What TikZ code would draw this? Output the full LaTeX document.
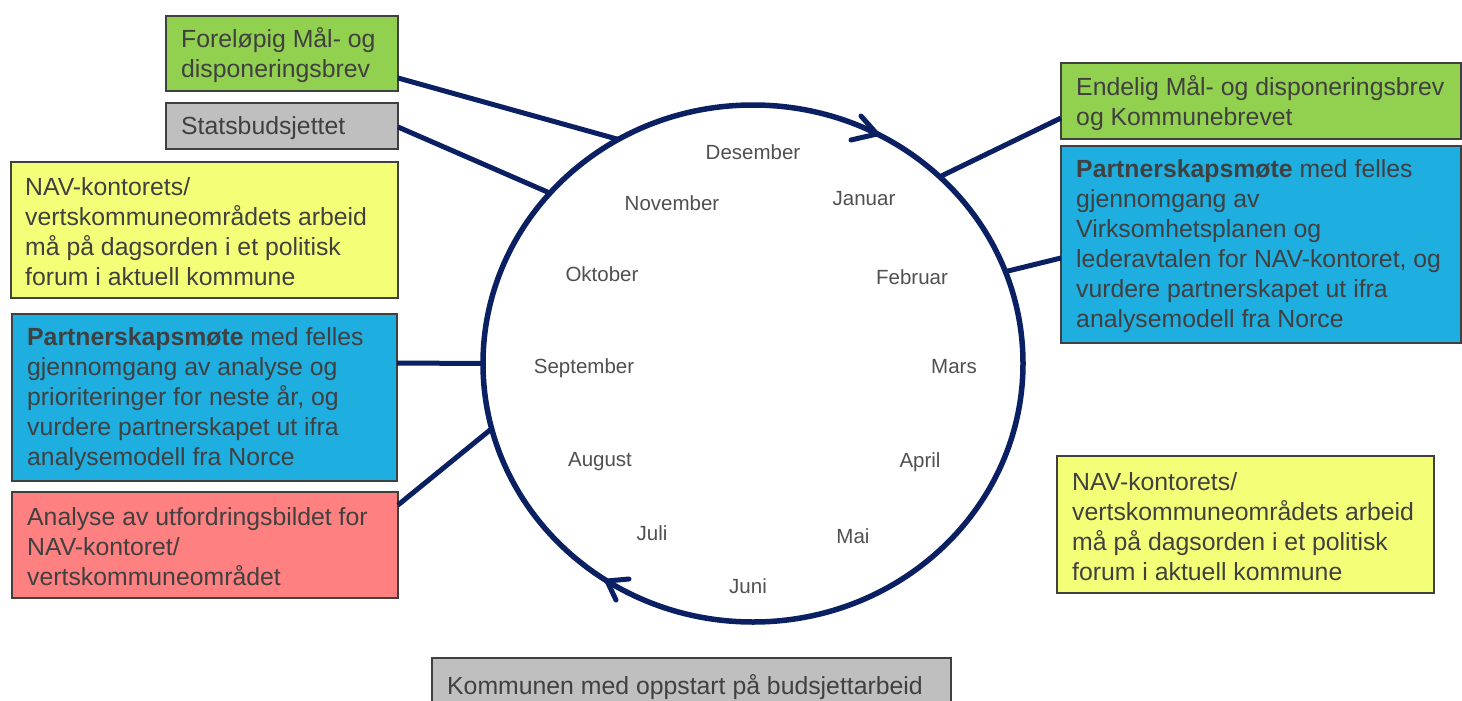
\documentclass[tikz,border=0pt]{standalone}
\usepackage{fontspec}
\setmainfont{Liberation Sans}
\usetikzlibrary{shapes.geometric}
\definecolor{navy}{RGB}{10,32,98}
\definecolor{boxline}{RGB}{64,64,64}
\definecolor{txtgray}{RGB}{64,64,64}
\definecolor{mongray}{RGB}{80,80,80}
\definecolor{lgreen}{RGB}{146,208,80}
\definecolor{lgray}{RGB}{191,191,191}
\definecolor{lyellow}{RGB}{244,255,120}
\definecolor{lblue}{RGB}{30,174,224}
\definecolor{lred}{RGB}{255,128,128}
\begin{document}
\begin{tikzpicture}[x=1pt,y=-1pt,
  box/.style={draw=boxline, line width=1.6pt, inner sep=0pt, outer sep=0pt, anchor=north west},
  txt/.style={align=left, anchor=west, inner sep=0pt, text=txtgray, font=\fontsize{24.8}{30}\selectfont},
  month/.style={text=mongray, font=\fontsize{20.5}{24}\selectfont, inner sep=0pt},
  conn/.style={draw=navy, line width=5pt},
  chev/.style={draw=navy, line width=5pt, line cap=round, line join=round}]
\useasboundingbox (0,0) rectangle (1462,701);
\fill[white] (0,0) rectangle (1462,701);

% boxes
\node[box, fill=lgreen, minimum width=232pt, minimum height=75pt] (fore) at (166,16) {};
\node[txt] (foreT) at ([xshift=15pt,yshift=-2pt]fore.west) {Foreløpig Mål- og\\disponeringsbrev};

\node[box, fill=lgray, minimum width=232pt, minimum height=46pt] (stats) at (166,103) {};
\node[txt] (statsT) at ([xshift=15pt,yshift=-2pt]stats.west) {Statsbudsjettet};

\node[box, fill=lyellow, minimum width=387pt, minimum height=136pt] (yelL) at (11,162) {};
\node[txt] (yelLT) at ([xshift=14pt,yshift=-2pt]yelL.west) {NAV-kontorets/\\vertskommuneområdets arbeid\\må på dagsorden i et politisk\\forum i aktuell kommune};

\node[box, fill=lblue, minimum width=385pt, minimum height=167pt] (bluL) at (12,314) {};
\node[txt] (bluLT) at ([xshift=15pt,yshift=-2pt]bluL.west) {\textbf{Partnerskapsmøte} med felles\\gjennomgang av analyse og\\prioriteringer for neste år, og\\vurdere partnerskapet ut ifra\\analysemodell fra Norce};

\node[box, fill=lred, minimum width=386pt, minimum height=106pt] (redL) at (12,492) {};
\node[txt] (redLT) at ([xshift=15pt,yshift=-2pt]redL.west) {Analyse av utfordringsbildet for\\NAV-kontoret/\\vertskommuneområdet};

\node[box, fill=lgreen, minimum width=400pt, minimum height=76pt] (endl) at (1061,63) {};
\node[txt] (endlT) at ([xshift=15pt,yshift=-2pt]endl.west) {Endelig Mål- og disponeringsbrev\\og Kommunebrevet};

\node[box, fill=lblue, minimum width=400pt, minimum height=197pt] (bluR) at (1061,146) {};
\node[txt] (bluRT) at ([xshift=15pt,yshift=-2pt]bluR.west) {\textbf{Partnerskapsmøte} med felles\\gjennomgang av\\Virksomhetsplanen og\\lederavtalen for NAV-kontoret, og\\vurdere partnerskapet ut ifra\\analysemodell fra Norce};

\node[box, fill=lyellow, minimum width=377pt, minimum height=137pt] (yelR) at (1057,456) {};
\node[txt] (yelRT) at ([xshift=15pt,yshift=-2pt]yelR.west) {NAV-kontorets/\\vertskommuneområdets arbeid\\må på dagsorden i et politisk\\forum i aktuell kommune};

\node[box, fill=lgray, minimum width=519pt, minimum height=54pt] (komm) at (432,658) {};
\node[txt] (kommT) at ([xshift=15pt,yshift=-2pt]komm.west) {Kommunen med oppstart på budsjettarbeid};

% cycle
\node[ellipse, draw=navy, line width=5.5pt, minimum width=540pt, minimum height=517pt, inner sep=0pt, outer sep=0pt] (cyc) at (753,363.5) {};

% month labels
\node[month] (m12) at (753,152) {Desember};
\node[month] (m1) at (864,199) {Januar};
\node[month] (m11) at (672,203) {November};
\node[month] (m2) at (912,277) {Februar};
\node[month] (m10) at (602,274) {Oktober};
\node[month] (m9) at (584,368) {September};
\node[month] (m3) at (954,367) {Mars};
\node[month] (m8) at (600,462) {August};
\node[month] (m4) at (920,462) {April};
\node[month] (m7) at (652,533) {Juli};
\node[month] (m5) at (853,536) {Mai};
\node[month] (m6) at (748,586) {Juni};

% connectors
\draw[conn] (fore.east |- 0,78) -- (cyc.121.7);
\draw[conn] (stats.east |- 0,127) -- (cyc.140.2);
\draw[conn] (bluL.east |- 0,363) -- (cyc.180);
\draw[conn] (redL.east |- 0,505) -- (cyc.194.8);
\draw[conn] (endl.west |- 0,118) -- (cyc.45.5);
\draw[conn] (bluR.west |- 0,258) -- (cyc.20.7);

% direction chevrons
\draw[chev] (861,116) -- (877,134) -- (851,140);
\draw[chev] (629,579) -- (607,581) -- (616,600);
\end{tikzpicture}
\end{document}
